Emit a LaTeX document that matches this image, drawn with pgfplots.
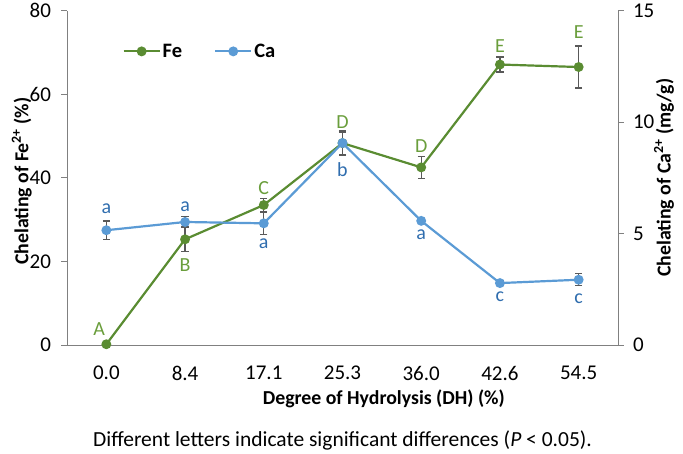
\documentclass[border=0pt]{standalone}
\usepackage{fontspec}
\setmainfont{Carlito}
\usepackage{pgfplots}
\usepackage{pgfplotstable}
\pgfplotsset{compat=1.18}
\definecolor{feline}{HTML}{5A8C32}
\definecolor{feletter}{HTML}{6A9E3C}
\definecolor{caline}{HTML}{5B9BD5}
\definecolor{caletter}{HTML}{2F6DAE}
\definecolor{errgray}{HTML}{595959}
\definecolor{axisgray}{HTML}{808080}
\pgfplotstableread{
x fe feerr ca caerr
0 0.2 0 5.15 0.42
1 25.3 3.0 5.52 0.25
2 33.5 1.5 5.46 0.5
3 48.3 3.0 9.06 0.5
4 42.5 2.6 5.57 0.1
5 67.1 1.8 2.78 0.1
6 66.5 5.0 2.93 0.27
}\data
\pgfplotsset{
  common/.style={
    scale only axis, width=551pt, height=334.5pt,
    xmin=-0.5, xmax=6.5,
    tick align=outside, major tick length=5.5pt,
    axis line style={-, color=axisgray, line width=0.9pt},
    y tick style={color=axisgray, line width=0.9pt},
    ticklabel style={font=\fontsize{21}{24}\selectfont},
    label style={font=\bfseries\fontsize{19.8}{24}\selectfont},
    /pgf/number format/assume math mode=true,
  },
  errs/.style={error bars/.cd, y dir=both, y explicit,
    error bar style={line width=1.3pt, color=errgray},
    error mark options={rotate=90, mark size=3.6pt, line width=1.3pt, color=errgray}},
  fe/.style={color=feline, line width=2.2pt, mark=*, mark size=3.8pt, mark options={fill=feline, draw=feline}},
  ca/.style={color=caline, line width=2.2pt, mark=*, mark size=3.8pt, mark options={fill=caline, draw=caline}},
}
\begin{document}
\begin{tikzpicture}
\begin{axis}[common, name=ax,
  ymin=0, ymax=80, ytick={0,20,40,60,80},
  axis x line*=bottom, axis y line*=left,
  xtick={0,...,6}, xticklabels={0.0,8.4,17.1,25.3,36.0,42.6,54.5},
  x tick style={draw=none},
  xticklabel style={yshift=-12pt},
  yticklabel style={xshift=-7pt},
  xlabel={Degree of Hydrolysis (DH) (\%)},
  xlabel style={at={(axis description cs:0.575,-0.1614)}, anchor=center},
  ylabel={Chelating of Fe\textsuperscript{2+} (\%)},
  ylabel style={at={(axis description cs:-0.082,0.49)}, anchor=center},
]
\addplot[fe, errs] table[x=x, y=fe, y error=feerr] {\data};
\begin{scope}[font=\fontsize{20}{24}\selectfont]
\node[text=feletter] at (axis cs:-0.09,3.9) {A};
\node[text=feletter] at (axis cs:1,19.1) {B};
\node[text=feletter] at (axis cs:2,37.5) {C};
\node[text=feletter] at (axis cs:3,53.3) {D};
\node[text=feletter] at (axis cs:4,47.6) {D};
\node[text=feletter] at (axis cs:5,71.6) {E};
\node[text=feletter] at (axis cs:6,74.8) {E};
\node[text=caletter] at (axis cs:0,32.5) {a};
\node[text=caletter] at (axis cs:1,33.0) {a};
\node[text=caletter] at (axis cs:2,24.2) {a};
\node[text=caletter] at (axis cs:3,41.9) {b};
\node[text=caletter] at (axis cs:4,26.3) {a};
\node[text=caletter] at (axis cs:5,11.5) {c};
\node[text=caletter] at (axis cs:6,11.0) {c};
\end{scope}
\end{axis}
\begin{axis}[common,
  ymin=0, ymax=15, ytick={0,5,10,15},
  axis x line=none, axis y line*=right,
  yticklabel style={xshift=6pt},
  ylabel={Chelating of Ca\textsuperscript{2+} (mg/g)},
  ylabel style={at={(axis description cs:1.0835,0.5)}, anchor=center, rotate=0},
  legend columns=2,
  legend style={draw=none, fill=none, at={(0.095,0.878)}, anchor=west,
    font=\bfseries\fontsize{20.5}{24}\selectfont,
    /tikz/every even column/.append style={column sep=30pt}},
  legend image code/.code={\draw[mark repeat=2, mark phase=2, #1] plot coordinates {(0pt,0pt) (18pt,0pt) (36pt,0pt)};},
]
\addlegendimage{fe}
\addlegendentry{Fe}
\addplot[ca, errs] table[x=x, y=ca, y error=caerr] {\data};
\addlegendentry{Ca}
\end{axis}
\node[font=\fontsize{21.5}{25}\selectfont] at (ax.south) [yshift=-95pt] {Different letters indicate significant differences (\textit{P} < 0.05).};
\path (ax.south west) ++(-67pt,-105pt) rectangle ++(683pt,447pt);
\end{tikzpicture}
\end{document}
